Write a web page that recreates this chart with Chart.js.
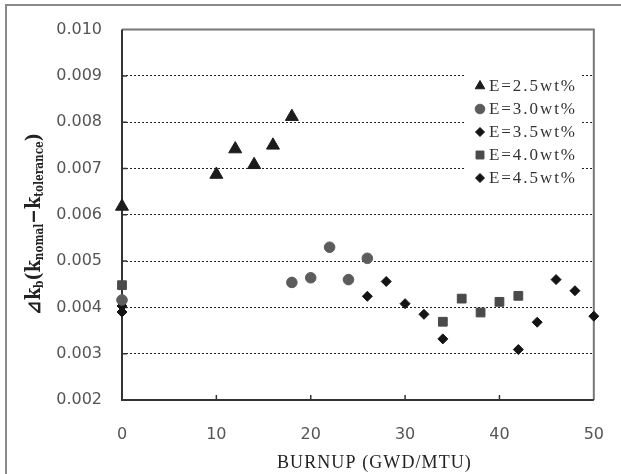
<!DOCTYPE html>
<html>
<head>
<meta charset="utf-8">
<script src="https://cdn.jsdelivr.net/npm/chart.js@4.4.0/dist/chart.umd.min.js"></script>
<style>
  html, body { margin: 0; padding: 0; background: #fff; }
  canvas { display: block; }
</style>
</head>
<body>
<canvas id="burnupChart" width="621" height="474"></canvas>
<script>
// values
const burnupE25 = [0, 10, 12, 14, 16, 18];
const dkE25 = [0.00618, 0.00687, 0.00742, 0.00708, 0.0075, 0.00812];

const burnupE30 = [0, 18, 20, 22, 24, 26];
const dkE30 = [0.00416, 0.00454, 0.00464, 0.0053, 0.0046, 0.00506];

const burnupE35 = [0, 26, 28, 30, 32, 34];
const dkE35 = [0.00403, 0.00424, 0.00456, 0.00408, 0.00385, 0.00332];

const burnupE40 = [0, 34, 36, 38, 40, 42];
const dkE40 = [0.00448, 0.00369, 0.00419, 0.00389, 0.00412, 0.00425];

const burnupE45 = [0, 42, 44, 46, 48, 50];
const dkE45 = [0.0039, 0.00309, 0.00368, 0.0046, 0.00436, 0.00381];

const seriesLabels = ['E=2.5wt%', 'E=3.0wt%', 'E=3.5wt%', 'E=4.0wt%', 'E=4.5wt%'];
const xTicks = [0, 10, 20, 30, 40, 50];
const yTicks = [0.002, 0.003, 0.004, 0.005, 0.006, 0.007, 0.008, 0.009, 0.010];

const toPoints = (xs, ys) => xs.map((x, i) => ({ x: x, y: ys[i] }));

const markers = [
    { style: 'triangle', radius: 7.5, legendRadius: 5.5, color: '#1c1c1c' },
    { style: 'circle', radius: 5.3, legendRadius: 4.8, color: '#5c5c5c' },
    { style: 'rectRot', radius: 5, legendRadius: 4.5, color: '#141414' },
    { style: 'rect', radius: 6.2, legendRadius: 5.6, color: '#4a4a4a' },
    { style: 'rectRot', radius: 5, legendRadius: 4.5, color: '#141414' }
];

const seriesData = [
    toPoints(burnupE25, dkE25),
    toPoints(burnupE30, dkE30),
    toPoints(burnupE35, dkE35),
    toPoints(burnupE40, dkE40),
    toPoints(burnupE45, dkE45)
];

function drawMarker(ctx, m, r, x, y) {
    if (Chart.helpers && Chart.helpers.drawPoint) {
        ctx.fillStyle = m.color;
        ctx.strokeStyle = m.color;
        ctx.lineWidth = 1;
        Chart.helpers.drawPoint(ctx, { pointStyle: m.style, radius: r, rotation: 0, borderWidth: 1 }, x, y);
    }
}

function spacedText(ctx, text, font, width, x, y) {
    ctx.font = font;
    ctx.letterSpacing = '0px';
    const w = ctx.measureText(text).width;
    const sp = (width - w) / text.length;
    ctx.letterSpacing = sp.toFixed(2) + 'px';
    ctx.fillText(text, x, y);
    ctx.letterSpacing = '0px';
}

const framePlugin = {
    id: 'frame',
    beforeDatasetsDraw(chart) {
        const { ctx, chartArea: a, scales } = chart;
        ctx.save();
        // outer figure border (only top and left are visible)
        ctx.strokeStyle = '#8a8a8a';
        ctx.lineWidth = 2;
        ctx.beginPath();
        ctx.moveTo(6, 474);
        ctx.lineTo(6, 5);
        ctx.lineTo(621, 5);
        ctx.stroke();

        // plot frame
        ctx.strokeStyle = '#777';
        ctx.lineWidth = 2;
        ctx.beginPath();
        ctx.moveTo(a.left, a.top);
        ctx.lineTo(a.right, a.top);
        ctx.lineTo(a.right, a.bottom);
        ctx.stroke();
        ctx.strokeStyle = '#333';
        ctx.beginPath();
        ctx.moveTo(a.left, a.top);
        ctx.lineTo(a.left, a.bottom);
        ctx.lineTo(a.right, a.bottom);
        ctx.stroke();

        // inward tick marks
        ctx.lineWidth = 1.5;
        ctx.beginPath();
        xTicks.slice(1, -1).forEach(v => {
            const px = scales.x.getPixelForValue(v);
            ctx.moveTo(px, a.bottom);
            ctx.lineTo(px, a.bottom - 5);
        });
        yTicks.slice(1, -1).forEach(v => {
            const py = scales.y.getPixelForValue(v);
            ctx.moveTo(a.left, py);
            ctx.lineTo(a.left + 5, py);
        });
        ctx.stroke();
        ctx.restore();
    },
    afterDatasetsDraw(chart) {
        const { ctx } = chart;
        ctx.save();
        // legend box inside the plot
        ctx.fillStyle = '#fff';
        ctx.fillRect(465, 62, 115, 138);
        seriesLabels.forEach((lab, i) => {
            const y = 86 + i * 23;
            drawMarker(ctx, markers[i], markers[i].legendRadius, 480, y);
            ctx.fillStyle = '#333';
            ctx.textBaseline = 'middle';
            ctx.textAlign = 'left';
            spacedText(ctx, lab, '17px "Liberation Serif"', 88, 489, y + 1);
        });

        // x axis title
        ctx.fillStyle = '#222';
        ctx.textAlign = 'left';
        ctx.textBaseline = 'middle';
        spacedText(ctx, 'BURNUP (GWD/MTU)', '18px "Liberation Serif"', 195, 277, 463);

        // y axis title with subscripts
        const parts = [
            { t: '\u22BFk', sub: false },
            { t: 'b', sub: true },
            { t: '(k', sub: false },
            { t: 'nomal', sub: true },
            { t: '\u2212k', sub: false },
            { t: 'tolerance', sub: true },
            { t: ')', sub: false }
        ];
        const mainFont = 'bold 20px "DejaVu Serif"';
        const subFont = 'bold 12px "DejaVu Serif"';
        let total = 0;
        parts.forEach(p => {
            ctx.font = p.sub ? subFont : mainFont;
            p.w = ctx.measureText(p.t).width;
            total += p.w;
        });
        const target = 182;
        const k = target / total;
        ctx.translate(34, 224);
        ctx.rotate(-Math.PI / 2);
        ctx.scale(k, 1);
        ctx.textAlign = 'left';
        ctx.textBaseline = 'alphabetic';
        let cx = -total / 2;
        parts.forEach(p => {
            ctx.font = p.sub ? subFont : mainFont;
            ctx.fillText(p.t, cx, p.sub ? 9 : 6);
            cx += p.w;
        });
        ctx.restore();
    }
};

new Chart(document.getElementById('burnupChart'), {
    type: 'scatter',
    data: {
        datasets: seriesData.map((pts, i) => ({
            label: seriesLabels[i],
            data: pts,
            pointStyle: markers[i].style,
            pointRadius: markers[i].radius,
            pointHoverRadius: markers[i].radius,
            backgroundColor: markers[i].color,
            borderColor: markers[i].color,
            borderWidth: 1,
            clip: false
        }))
    },
    options: {
        responsive: false,
        devicePixelRatio: 1,
        animation: false,
        layout: { padding: { top: 25, right: 23, left: 0, bottom: 0 } },
        plugins: {
            legend: { display: false },
            tooltip: { enabled: false }
        },
        scales: {
            x: {
                type: 'linear',
                min: 0,
                max: 50,
                afterBuildTicks: s => { s.ticks = xTicks.map(v => ({ value: v })); },
                afterFit: s => { s.height = 74; },
                grid: { display: false },
                border: { display: false },
                ticks: {
                    padding: 17,
                    color: '#555',
                    font: { family: '"DejaVu Sans"', size: 16 },
                    maxRotation: 0
                }
            },
            y: {
                type: 'linear',
                min: 0.002,
                max: 0.010,
                afterBuildTicks: s => { s.ticks = yTicks.map(v => ({ value: v })); },
                afterFit: s => { s.width = 122; },
                grid: {
                    drawTicks: false,
                    lineWidth: 1,
                    color: c => (c.tick && (c.tick.value <= 0.0021 || c.tick.value >= 0.0099)) ? 'rgba(0,0,0,0)' : '#222'
                },
                border: { display: false, dash: [2, 2] },
                ticks: {
                    padding: 20,
                    color: '#555',
                    font: { family: '"DejaVu Sans"', size: 16 },
                    callback: v => v.toFixed(3)
                }
            }
        }
    },
    plugins: [framePlugin]
});
</script>
</body>
</html>
